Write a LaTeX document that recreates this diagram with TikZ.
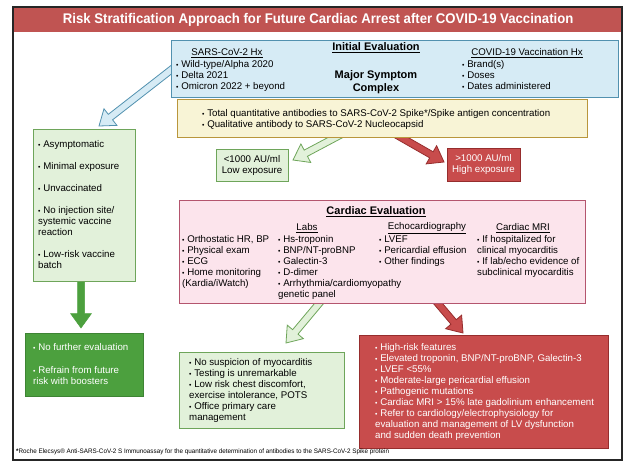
\documentclass[tikz,border=0pt]{standalone}
\usepackage{fontspec}
\setmainfont{Liberation Sans}
\usetikzlibrary{calc}
\definecolor{titlered}{RGB}{192,84,82}
\definecolor{bluefill}{RGB}{214,235,245}
\definecolor{blueline}{RGB}{82,145,175}
\definecolor{yellowfill}{RGB}{248,244,214}
\definecolor{yellowline}{RGB}{185,150,60}
\definecolor{lgfill}{RGB}{226,241,218}
\definecolor{lgline}{RGB}{110,165,90}
\definecolor{dgfill}{RGB}{76,160,62}
\definecolor{dgline}{RGB}{62,132,52}
\definecolor{redfill}{RGB}{200,76,76}
\definecolor{redline}{RGB}{150,45,45}
\definecolor{pinkfill}{RGB}{252,228,236}
\definecolor{pinkline}{RGB}{180,85,110}
\newcommand{\bu}{\scalebox{0.7}{•}\ }
\newcommand{\fatarrow}[3]{%
  \coordinate (fahb) at ($(#3)!14.5pt!(#2)$);
  \draw[#1] ($(#2)!3.5pt!90:(#3)$) -- ($(fahb)!3.5pt!90:(#3)$) -- ($(fahb)!10.5pt!90:(#3)$) -- (#3) -- ($(fahb)!10.5pt!-90:(#3)$) -- ($(fahb)!3.5pt!-90:(#3)$) -- ($(#2)!3.5pt!-90:(#3)$) -- cycle;}
\tikzset{
  box/.style={draw, line width=0.9pt, inner sep=0pt},
  txt/.style={inner sep=0pt, anchor=north west, align=left, font=\fontsize{9.7}{11}\selectfont},
  ctxt/.style={inner sep=0pt, align=center, font=\fontsize{9.7}{11}\selectfont},
  arrblue/.style={fill=bluefill, draw=blueline, line width=0.8pt},
  arrlg/.style={fill=lgfill, draw=lgline, line width=0.8pt},
  arrred/.style={fill=redfill, draw=redline, line width=0.8pt},
  arrdg/.style={fill=dgfill, draw=dgfill, line width=0.5pt},
}
\begin{document}
\begin{tikzpicture}[x=1pt,y=-1pt]
\useasboundingbox (0,0) rectangle (643,469);
% frame and title
\node[fill=titlered, inner sep=0pt, minimum width=610pt, minimum height=25pt, anchor=north west] (title) at (13,7) {};
\node[text=white, font=\bfseries\fontsize{14}{16}\selectfont, inner sep=0pt] (titletext) at (title.center) {\scalebox{0.94}[1]{Risk Stratification Approach for Future Cardiac Arrest after COVID-19 Vaccination}};
\draw[line width=1.8pt, black!85] (13,7) rectangle (622,460);
% arrows
\coordinate (a1s) at (176,66); \coordinate (a1e) at (99,126);
\coordinate (a2s) at (81,279); \coordinate (a2e) at (81,328);
\coordinate (a3s) at (342,134); \coordinate (a3e) at (293,160);
\coordinate (a4s) at (395,134); \coordinate (a4e) at (444,162);
\coordinate (a5s) at (322,300); \coordinate (a5e) at (286,343);
\coordinate (a6s) at (435,300); \coordinate (a6e) at (463,333);
\fatarrow{arrblue}{a1s}{a1e}
\fatarrow{arrdg}{a2s}{a2e}
\fatarrow{arrlg}{a3s}{a3e}
\fatarrow{arrred}{a4s}{a4e}
\fatarrow{arrlg}{a5s}{a5e}
\fatarrow{arrred}{a6s}{a6e}
% boxes
\node[box, fill=bluefill, draw=blueline, minimum width=447pt, minimum height=57pt] (init) at (395,68.5) {};
\node[box, fill=yellowfill, draw=yellowline, minimum width=410pt, minimum height=38pt] (anti) at (382,118) {};
\node[box, fill=lgfill, draw=lgline, minimum width=72pt, minimum height=32pt] (low) at (252,165) {};
\node[box, fill=redfill, draw=redline, minimum width=73pt, minimum height=33pt] (high) at (483.5,164.5) {};
\node[box, fill=lgfill, draw=lgline, minimum width=102pt, minimum height=152pt] (asym) at (84,205) {};
\node[box, fill=pinkfill, draw=pinkline, minimum width=406pt, minimum height=103pt] (card) at (382,251.5) {};
\node[box, fill=dgfill, draw=dgline, minimum width=118pt, minimum height=63pt] (nofur) at (84,364.5) {};
\node[box, fill=lgfill, draw=lgline, minimum width=165pt, minimum height=76pt] (nosusp) at (261.5,390) {};
\node[box, fill=redfill, draw=redline, minimum width=249pt, minimum height=113pt] (highrisk) at (483.5,391.5) {};
% initial evaluation texts
\node[ctxt, font=\bfseries\fontsize{11}{12}\selectfont] (initT) at (376,48) {\underline{Initial Evaluation}};
\node[ctxt, font=\bfseries\fontsize{11}{13}\selectfont] (major) at (376,82.5) {Major Symptom\\Complex};
\node[ctxt] (sarsH) at (227,53) {\underline{SARS-CoV-2 Hx}};
\node[txt] (sarsL) at (176,60.5) {\bu Wild-type/Alpha 2020\\\bu Delta 2021\\\bu Omicron 2022 + beyond};
\node[ctxt] (vaxH) at (527,53) {\underline{COVID-19 Vaccination Hx}};
\node[txt] (vaxL) at (462,60.5) {\bu Brand(s)\\\bu Doses\\\bu Dates administered};
% antibodies
\node[txt] (antiT) at (202,109.5) {\bu Total quantitative antibodies to SARS-CoV-2 Spike*/Spike antigen concentration\\\bu Qualitative antibody to SARS-CoV-2 Nucleocapsid};
\node[ctxt] (lowT) at (low.center) {<1000 AU/ml\\Low exposure};
\node[ctxt, text=white] (highT) at (high.center) {>1000 AU/ml\\High exposure};
% left column
\node[txt] (asymT) at (38,140.5) {\bu Asymptomatic\\[11pt]\bu Minimal exposure\\[11pt]\bu Unvaccinated\\[11pt]\bu No injection site/\\systemic vaccine\\reaction\\[11pt]\bu Low-risk vaccine\\batch};
\node[txt, text=white] (nofurT) at (33,343.5) {\bu No further evaluation\\[12pt]\bu Refrain from future\\risk with boosters};
% cardiac evaluation
\node[ctxt, font=\bfseries\fontsize{11}{12}\selectfont] (cardT) at (376,212) {\underline{Cardiac Evaluation}};
\node[ctxt] (labsH) at (307,228) {\underline{Labs}};
\node[ctxt] (echoH) at (427,228) {\underline{Echocardiography}};
\node[ctxt] (mriH) at (523,228) {\underline{Cardiac MRI}};
\node[txt] (col1) at (182,235.5) {\bu Orthostatic HR, BP\\\bu Physical exam\\\bu ECG\\\bu Home monitoring\\(Kardia/iWatch)};
\node[txt] (col2) at (278,235.5) {\bu Hs-troponin\\\bu BNP/NT-proBNP\\\bu Galectin-3\\\bu D-dimer\\\bu Arrhythmia/cardiomyopathy\\genetic panel};
\node[txt] (col3) at (379,235.5) {\bu LVEF\\\bu Pericardial effusion\\\bu Other findings};
\node[txt] (col4) at (477,235.5) {\bu If hospitalized for\\clinical myocarditis\\\bu If lab/echo evidence of\\subclinical myocarditis};
% bottom boxes
\node[txt] (nosuspT) at (189,358.5) {\bu No suspicion of myocarditis\\\bu Testing is unremarkable\\\bu Low risk chest discomfort,\\exercise intolerance, POTS\\\bu Office primary care\\management};
\node[txt, text=white] (highriskT) at (375,343.5) {\bu High-risk features\\\bu Elevated troponin, BNP/NT-proBNP, Galectin-3\\\bu LVEF <55\%\\\bu Moderate-large pericardial effusion\\\bu Pathogenic mutations\\\bu Cardiac MRI > 15\% late gadolinium enhancement\\\bu Refer to cardiology/electrophysiology for\\evaluation and management of LV dysfunction\\and sudden death prevention};
% footnote
\node[inner sep=0pt, anchor=west, font=\fontsize{6.5}{7}\selectfont] (foot) at (16,452) {\scalebox{0.97}[1]{\textbf{*}Roche Elecsys® Anti-SARS-CoV-2 S Immunoassay for the quantitative determination of antibodies to the SARS-CoV-2 Spike protein}};
\end{tikzpicture}
\end{document}
